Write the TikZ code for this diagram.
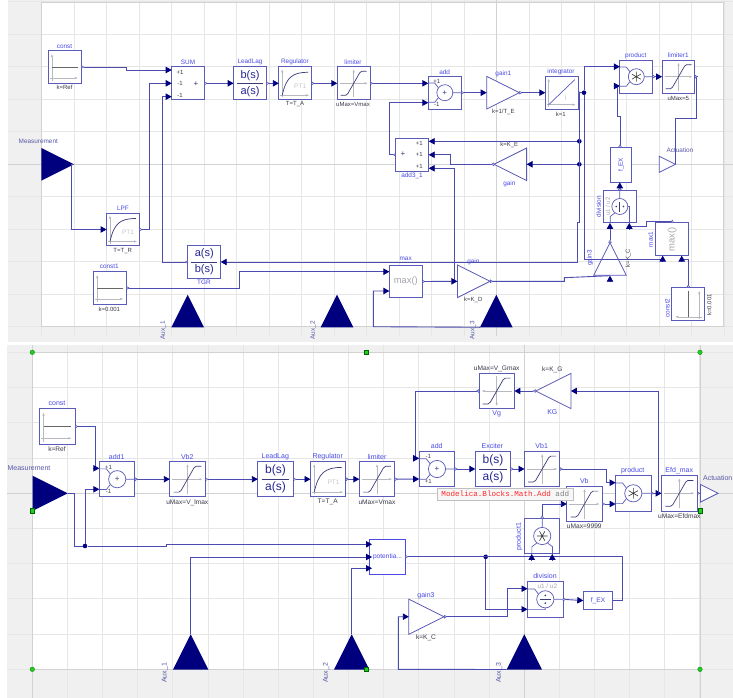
\documentclass[tikz,border=0pt]{standalone}
\usepackage{fontspec}
\setmainfont{Liberation Sans}
\newfontfamily\monoF{Liberation Mono}
\usetikzlibrary{arrows.meta,shapes.geometric,shadows}
\definecolor{navyc}{HTML}{00007F}
\definecolor{framec}{HTML}{5A5AB8}
\definecolor{wirec}{HTML}{4C4CB0}
\definecolor{namec}{HTML}{4A4AE6}
\definecolor{parc}{HTML}{3A3A4A}
\definecolor{portc}{HTML}{5858A8}
\definecolor{panelc}{HTML}{F0F0F0}
\definecolor{gridc}{HTML}{E6E6E6}
\definecolor{axisc}{HTML}{D2D2D2}
\definecolor{iconc}{HTML}{B8B8C0}
\definecolor{crvc}{HTML}{3A3A78}
\definecolor{handlec}{HTML}{22CC22}
\newcounter{tn}
\newcommand\T[3]{\stepcounter{tn}\node[#1] (t\thetn) at (#2) {#3};}
\tikzset{
  blk/.style={rectangle,draw=framec,fill=white,line width=.9pt,inner sep=0pt,outer sep=0pt},
  sqA/.style={blk,minimum width=32.8pt,minimum height=32.8pt},
  sqB/.style={blk,minimum width=35.4pt,minimum height=35.4pt},
  triBase/.style={isosceles triangle,isosceles triangle stretches,inner sep=0pt,outer sep=0pt,minimum width=#1,minimum height=#1},
  gainA/.style={triBase=32.6pt,draw=framec,fill=white,line width=.8pt},
  gainB/.style={triBase=35.2pt,draw=framec,fill=white,line width=.8pt},
  inpA/.style={triBase=32.6pt,fill=navyc},
  inpB/.style={triBase=35.2pt,fill=navyc},
  wire/.style={draw=wirec,line width=.9pt,line join=miter},
  wireA/.style={wire,-{Triangle[length=6pt,width=6.4pt,color=navyc]}},
  wireOA/.style={wire,{Triangle[reversed,open,fill=white,length=3pt,width=3.6pt,line width=.5pt]}-{Triangle[length=6pt,width=6.4pt,color=navyc]}},
  wireO/.style={wire,{Triangle[reversed,open,fill=white,length=3pt,width=3.6pt,line width=.5pt]}-},
  dotn/.style={circle,fill=navyc,inner sep=0pt,minimum size=4.6pt},
  nmA/.style={inner sep=0pt,text=namec,font=\fontsize{6.4}{7}\selectfont},
  nmB/.style={inner sep=0pt,text=namec,font=\fontsize{7}{8}\selectfont},
  paA/.style={inner sep=0pt,text=parc,font=\fontsize{6}{7}\selectfont},
  paB/.style={inner sep=0pt,text=parc,font=\fontsize{6.6}{7}\selectfont},
  ptA/.style={inner sep=0pt,text=portc,font=\fontsize{6.4}{7}\selectfont},
  ptB/.style={inner sep=0pt,text=portc,font=\fontsize{7}{8}\selectfont},
  ax/.style={draw=iconc,line width=.5pt,-{Latex[length=3pt,width=2.4pt]}},
  crv/.style={draw=crvc,line width=.7pt,line join=round},
  ring/.style={draw=framec,line width=.7pt,fill=white},
  mxA/.style={inner sep=0pt,text=iconc!90!black,font=\fontsize{9.4}{10}\selectfont},
  handleC/.style={circle,fill=handlec,draw=green!50!black,line width=.3pt,inner sep=0pt,minimum size=4.6pt},
  handleS/.style={rectangle,fill=handlec,draw=green!40!black,line width=.4pt,inner sep=0pt,minimum size=4.2pt},
}
\newcommand\icConst[3][0]{\begin{scope}[shift={(#2.center)},scale=#3,rotate=#1]
  \draw[ax] (-13,14)--(-13,-13); \draw[ax] (-15,11)--(13,11);
  \draw[draw=black!60,line width=.9pt] (-13,0)--(13,0);\end{scope}}
\newcommand\icLim[3][0]{\begin{scope}[shift={(#2.center)},scale=#3,rotate=#1]
  \draw[ax] (0,14)--(0,-14); \draw[ax] (-14,0)--(14,0);
  \draw[crv] (-13,12)--(-8,12)--(-6,10.5)--(6,-10.5)--(8,-12)--(13,-12);\end{scope}}
\newcommand\icPT[2]{\begin{scope}[shift={(#1.center)},scale=#2]
  \draw[ax] (-13,14)--(-13,-14); \draw[ax] (-15,12)--(14,12);
  \draw[crv] (-13,12) .. controls (-9,-6) and (-3,-11) .. (13,-11);
  \T{inner sep=0pt,text=gray!45,font=\fontsize{6.5}{7}\selectfont}{5,3}{PT1}\end{scope}}
\newcommand\icInt[2]{\begin{scope}[shift={(#1.center)},scale=#2]
  \draw[ax] (-13,14)--(-13,-14); \draw[ax] (-15,12)--(14,12);
  \draw[draw=framec,line width=.7pt] (-13,12)--(13,-13);
  \T{inner sep=0pt,text=gray!45,font=\fontsize{6.5}{7}\selectfont}{4,6}{I}\end{scope}}
\newcommand\icFrac[5]{\begin{scope}[shift={(#1.center)},scale=#2]
  \draw[draw=crvc,line width=.7pt] (-13,0)--(13,0);
  \T{inner sep=0pt,text=navyc!85!white,font=\fontsize{#3}{12}\selectfont}{0,-8}{#4}
  \T{inner sep=0pt,text=navyc!85!white,font=\fontsize{#3}{12}\selectfont}{0,8}{#5}\end{scope}}
% round math block: lines from the two inputs to the ring
\newcommand\ringLines{\draw[draw=framec,line width=.7pt] (-16.5,-9.6)--(-10,-9.6)--(-6.5,-5) (-16.5,9.6)--(-10,9.6)--(-6.5,5) (8,0)--(16.5,0);}
\newcommand\icAdd[4]{\begin{scope}[shift={(#1.center)},scale=#2]
  \ringLines \draw[ring] (0,0) circle (8);
  \T{inner sep=0pt,text=crvc,font=\fontsize{8}{8}\selectfont}{0,0}{+}
  \T{inner sep=0pt,text=parc,font=\fontsize{6}{7}\selectfont}{-8,-11.3}{#3}
  \T{inner sep=0pt,text=parc,font=\fontsize{6}{7}\selectfont}{-8,11.3}{#4}\end{scope}}
\newcommand\icProd[3][0]{\begin{scope}[shift={(#2.center)},scale=#3,rotate=#1]
  \ringLines \draw[ring] (0,0) circle (8);
  \draw[draw=black!80,line width=.6pt] (0,-5)--(0,5) (-4.4,-2.5)--(4.4,2.5) (-4.4,2.5)--(4.4,-2.5);\end{scope}}
\newcommand\icDiv[3][0]{\begin{scope}[shift={(#2.center)},scale=#3,rotate=#1]
  \draw[draw=framec,line width=.7pt] (-16.5,-9.6)--(-10,-9.6)--(-6.5,-5) (-16.5,9.6)--(0,9.6)--(0,8) (8,0)--(16.5,0);
  \draw[ring] (0,0) circle (8);
  \draw[draw=crvc,line width=.7pt] (-5,0)--(5,0);
  \fill[crvc] (0,-3.6) circle (.9) (0,3.6) circle (.9);\end{scope}}
\newcommand\headU[1]{\draw[wireA] ([yshift=-6.3pt]#1) -- (#1);}
\newcommand\headR[1]{\draw[wireA] ([xshift=-6.3pt]#1) -- (#1);}

\begin{document}
\begin{tikzpicture}[x=1pt,y=-1pt]
\useasboundingbox (0,0) rectangle (733,698);
\fill[white] (0,0) rectangle (733,698);
%% ---------- panels and grids
\fill[panelc] (8,0) rectangle (733,342);
\fill[white] (41.7,2.7) rectangle (723.3,326.7);
\fill[panelc] (7,345) rectangle (733,698);
\fill[white] (32.3,352.3) rectangle (700,669.3);
\foreach \k in {0,...,21}{\draw[gridc,line width=.7pt] ({41.7+32.5*\k},0)--({41.7+32.5*\k},336);}
\foreach \k in {-5,...,5}{\draw[gridc,line width=.7pt] (8,{164.3+32.5*\k})--(733,{164.3+32.5*\k});}
\draw[axisc,line width=.7pt] (41.7,2.7) rectangle (723.3,326.7);
\draw[axisc,line width=.7pt] (8,164.3)--(733,164.3) (496.7,0)--(496.7,336);
\foreach \k in {0,...,19}{\draw[gridc,line width=.7pt] ({32.3+35.13*\k},345)--({32.3+35.13*\k},698);}
\foreach \k in {0,...,9}{\draw[gridc,line width=.7pt] (7,{352.3+35.2*\k})--(733,{352.3+35.2*\k});}
\draw[axisc,line width=.7pt] (32.3,352.3) rectangle (700,669.3);
\draw[axisc,line width=.7pt] (7,493.3)--(733,493.3) (524.2,345)--(524.2,698);
\draw[axisc,line width=.7pt] (32.3,345)--(32.3,698) (700,345)--(700,698);

%% ---------- top diagram: blocks
\node[sqA] (aconst) at (64.8,67) {};
\node[sqA] (asum) at (188,83.3) {};
\node[sqA] (alead) at (250,83.3) {};
\node[sqA] (areg) at (295.2,83.3) {};
\node[sqA] (alim) at (353.7,83.3) {};
\node[sqA] (aadd) at (444.8,92.7) {};
\node[sqA] (aint) at (561.7,92.7) {};
\node[sqA] (aadd3) at (412.3,154.8) {};
\node[sqA] (alpf) at (123,229.5) {};
\node[sqA] (atgr) at (204.3,262) {};
\node[sqA] (aconst1) at (110.2,288) {};
\node[sqA] (amax) at (405.8,281.5) {};
\node[sqA] (adiv) at (619.8,206.5) {};
\node[blk,minimum width=21pt,minimum height=35pt] (afex) at (621.2,164.8) {};
\node[sqA] (aprod) at (636.3,76.7) {};
\node[sqA] (alim1) at (678.5,76.7) {};
\node[sqA] (amax1) at (672.2,239.2) {};
\node[sqA] (aconst2) at (688.3,303.8) {};
\node[gainA,anchor=apex] (again1) at (519.3,92.7) {};
\node[gainA,anchor=apex,shape border rotate=180] (again) at (494,164.3) {};
\node[gainA,anchor=apex] (againD) at (490,281.3) {};
\node[gainA,anchor=apex,shape border rotate=90] (againC) at (610,242.7) {};
\node[triBase=16pt,anchor=apex,draw=framec,fill=white,line width=.8pt] (aact) at (675.3,164.3) {};
\node[inpA,anchor=apex] (ameas) at (74,164.3) {};
\node[inpA,anchor=apex,shape border rotate=90] (aaux1) at (187.7,294.7) {};
\node[inpA,anchor=apex,shape border rotate=90] (aaux2) at (337,294.7) {};
\node[inpA,anchor=apex,shape border rotate=90] (aaux3) at (496.3,294.7) {};

%% top icons
\icConst{aconst}{1}
\icFrac{alead}{1}{11}{b(s)}{a(s)}
\icPT{areg}{1}
\icLim{alim}{1}
\icAdd{aadd}{1}{+1}{-1}
\icInt{aint}{1}
\icPT{alpf}{1}
\icFrac{atgr}{1}{11}{a(s)}{b(s)}
\icConst{aconst1}{1}
\icProd{aprod}{1}
\icLim{alim1}{1}
\icDiv[90]{adiv}{1}
\icConst[90]{aconst2}{1}
\T{mxA}{amax}{max()}
\T{mxA,rotate=90}{amax1}{max()}
\T{inner sep=0pt,text=namec,rotate=90,font=\fontsize{6.4}{7}\selectfont}{afex}{f\_EX}
\T{inner sep=0pt,text=crvc,font=\fontsize{8}{8}\selectfont}{196,84}{+}
\T{inner sep=0pt,text=crvc,font=\fontsize{8}{8}\selectfont}{403,154}{+}
\T{paA}{180,72}{+1}\T{paA}{180,83.5}{-1}\T{paA}{180,95}{-1}
\T{paA}{419.3,143.3}{+1}\T{paA}{419.3,154.7}{+1}\T{paA}{419.3,166}{+1}
\T{inner sep=0pt,text=iconc!90!black,rotate=90,font=\fontsize{6}{7}\selectfont}{607.7,206.7}{u1 / u2}

%% top labels
\T{nmA}{64.5,46}{const}\T{paA}{64.5,87.5}{k=Ref}
\T{nmA}{188,62}{SUM}\T{nmA}{250,62}{LeadLag}
\T{nmA}{295,62}{Regulator}\T{paA}{295,104}{T=T\_A}
\T{nmA}{353,62}{limiter}\T{paA}{353,104}{uMax=Vmax}
\T{nmA}{444.7,72}{add}
\T{nmA}{503.3,74}{gain1}\T{paA}{503.3,112.3}{k=1/T\_E}
\T{nmA}{561,71.7}{integrator}\T{paA}{560.7,114}{k=1}
\T{nmA}{412,175.7}{add3\_1}
\T{paA}{509.3,145.3}{k=K\_E}\T{nmA}{509.3,183.7}{gain}
\T{ptA}{38.3,141}{Measurement}
\T{nmA}{123,208.5}{LPF}\T{paA}{122.7,250.7}{T=T\_R}
\T{nmA}{204,282.3}{TGR}
\T{nmA}{109.3,266.7}{const1}\T{paA}{109.3,309}{k=0.001}
\T{nmA}{405.7,259.3}{max}
\T{nmA}{473.3,261.7}{gain}\T{paA}{473.3,300.3}{k=K\_D}
\T{nmA,rotate=90}{590,258}{gain3}\T{paA,rotate=90}{628.3,258}{k=K\_C}
\T{nmA,rotate=90}{598.7,206.7}{division}
\T{nmA}{635.7,55.7}{product}
\T{nmA}{678.3,55.7}{limiter1}\T{paA}{678.3,98.3}{uMax=5}
\T{ptA}{680,150.7}{Actuation}
\T{nmA,rotate=90}{650.7,239.3}{max1}
\T{nmA,rotate=90}{667.3,308}{const2}\T{paA,rotate=90}{709.3,305}{k=0.001}
\T{ptA,rotate=90}{163.3,330.5}{Aux\_1}
\T{ptA,rotate=90}{313.3,330.5}{Aux\_2}
\T{ptA,rotate=90}{472.7,330.5}{Aux\_3}

%% top ports
\coordinate (as1) at (171.7,70);
\coordinate (as2) at (171.7,83.3);
\coordinate (as3) at (171.7,96.7);
\coordinate (aai1) at (428.3,83.3);
\coordinate (aai2) at (428.3,102.7);
\coordinate (a3i1) at (428.7,141.3);
\coordinate (a3i2) at (428.7,154.8);
\coordinate (a3i3) at (428.7,168.3);
\coordinate (ami1) at (389.4,271.7);
\coordinate (ami2) at (389.4,291);
\coordinate (api1) at (619.9,66.7);
\coordinate (api2) at (619.9,86);
\coordinate (adi1) at (610,222.9);
\coordinate (adi2) at (629.3,222.9);
\coordinate (am1i1) at (662.7,255.6);
\coordinate (am1i2) at (681.7,255.6);
\coordinate (agci) at (610,275.7);

%% top wires
\node[dotn] (aj1) at (579.3,141.3) {};
\node[dotn] (aj2) at (579.3,164.3) {};
\node[dotn] (aj3) at (584,92.7) {};
\coordinate (ajD) at (454.3,281.3);
\draw[wireOA] (aconst.east) -- (126,67) -- (126,70) -- (as1);
\draw[wireOA] (asum.east) -- (alead.west);
\draw[wireOA] (alead.east) -- (areg.west);
\draw[wireOA] (areg.east) -- (alim.west);
\draw[wireOA] (alim.east) -- (aai1);
\draw[wireOA] (aadd.east) -- (again1.lower side);
\draw[wireOA] (again1.apex) -- (aint.west);
\draw[wireA] (ameas.apex) -- (71.3,164.3) -- (71.3,229.5) -- (alpf.west);
\draw[wireOA] (alpf.east) -- (149.3,229.5) -- (149.3,83.3) -- (as2);
\draw[wireOA] (atgr.west) -- (162.3,262) -- (162.3,96.7) -- (as3);
\draw[wireOA] (aint.east) -- (579.3,92.7) -- (579.3,222.7) -- (577.3,222.7) -- (577.3,262) -- (atgr.east);
\draw[wireA] (aj1) -- (a3i1);
\draw[wireA] (aj2) -- (again.lower side);
\draw[wire] (579.3,92.7) -- (aj3);
\draw[wireA] (aj3) -- (584,66.7) -- (api1);
\draw[wire] (aj3) -- (584,259.3) -- (am1i1 |- 0,259.3);
\headU{am1i1}
\draw[wireO] (aconst2.north) -- (688.3,259.3) -- (am1i2 |- 0,259.3);
\headU{am1i2}
\draw[wireOA] (again.apex) -- (450.7,164.3) -- (450.7,154.8) -- (a3i2);
\draw[wireA] (ajD) -- (454.3,168.3) -- (a3i3);
\draw[wireOA] (aadd3.west) -- (389.3,154.8) -- (389.3,102.7) -- (aai2);
\draw[wireOA] (aconst1.east) -- (239.3,288) -- (239.3,271.7) -- (ami1);
\draw[wireA] (aaux3.left corner) -- (373.3,326.7) -- (373.3,291) -- (ami2);
\draw[wireOA] (amax.east) -- (againD.lower side);
\draw[wireO] (againD.apex) -- (564.3,281.3) -- (564.3,277.7) -- (agci);
\headU{agci}
\draw[wireOA] (againC.apex) -- (adi1);
\draw[wireO] (amax1.north) -- (672.2,221) -- (646,221) -- (646,226.7) -- (629.3,226.7);
\headU{adi2}
\draw[wireOA] (619.8,190.1) -- (afex.south -| 619.8,0);
\draw[wireO] (afex.north -| 620,0) -- (620,116.7) -- (617,116.7) -- (617,86);
\headR{api2}
\draw[wireOA] (aprod.east) -- (alim1.west);
\draw[wireO] (alim1.east) -- (696.7,76.7) -- (696.7,118.3) -- (675.3,118.3) -- (aact.apex);

%% ---------- bottom diagram: blocks
\node[sqB] (bconst) at (57.5,426.5) {};
\node[sqB] (badd1) at (117.2,479.2) {};
\node[sqB] (bvb2) at (187.5,479.2) {};
\node[sqB] (blead) at (275.5,479.2) {};
\node[sqB] (breg) at (328.2,479.2) {};
\node[sqB] (blim) at (377,479.2) {};
\node[sqB] (badd) at (437,469) {};
\node[sqB] (bexc) at (493,469) {};
\node[sqB] (bvb1) at (542.2,469) {};
\node[sqB] (bprod) at (633.3,493.3) {};
\node[sqB] (bvb) at (584.5,504) {};
\node[sqB] (bprod1) at (542.2,536) {};
\node[sqB] (bdiv) at (545.3,599.3) {};
\node[sqB] (bvg) at (496.7,391) {};
\node[sqB] (befd) at (679.3,493.3) {};
\node[blk,draw=namec,minimum width=35.4pt,minimum height=35pt] (bpot) at (387.5,556.8) {};
\node[blk,minimum width=29.4pt,minimum height=18.3pt] (bfex) at (598,600.6) {};
\node[gainB,anchor=apex,shape border rotate=180] (bkg) at (535.7,391) {};
\node[gainB,anchor=apex] (bg3) at (444,616.7) {};
\node[triBase=17.6pt,anchor=apex,draw=framec,fill=white,line width=.8pt] (bact) at (718,493.3) {};
\node[inpB,anchor=apex] (bmeas) at (67.7,493.3) {};
\node[inpB,anchor=apex,shape border rotate=90] (baux1) at (190.7,634.3) {};
\node[inpB,anchor=apex,shape border rotate=90] (baux2) at (351.7,634.3) {};
\node[inpB,anchor=apex,shape border rotate=90] (baux3) at (524.3,634.3) {};

%% bottom icons
\def\Sb{1.075}
\icConst{bconst}{\Sb}
\icAdd{badd1}{\Sb}{+1}{-1}
\icLim{bvb2}{\Sb}
\icFrac{blead}{\Sb}{12}{b(s)}{a(s)}
\icPT{breg}{\Sb}
\icLim{blim}{\Sb}
\icAdd{badd}{\Sb}{-1}{+1}
\icFrac{bexc}{\Sb}{12}{b(s)}{a(s)}
\icLim{bvb1}{\Sb}
\icProd{bprod}{\Sb}
\icLim{bvb}{\Sb}
\icProd[90]{bprod1}{\Sb}
\icDiv{bdiv}{\Sb}
\icLim[180]{bvg}{\Sb}
\icLim{befd}{\Sb}
\T{inner sep=0pt,text=namec,font=\fontsize{6.6}{7}\selectfont}{bpot}{potentia...}
\T{inner sep=0pt,text=namec,font=\fontsize{6.6}{7}\selectfont}{bfex}{f\_EX}
\T{inner sep=0pt,text=iconc!90!black,font=\fontsize{6.4}{7}\selectfont}{547.3,586.3}{u1 / u2}

%% bottom labels
\T{nmB}{57,403.5}{const}\T{paB}{57,449}{k=Ref}
\T{ptB}{29,468}{Measurement}
\T{nmB}{116.7,456.7}{add1}
\T{nmB}{187.3,456.7}{Vb2}\T{paB}{187.3,502.3}{uMax=V\_lmax}
\T{nmB}{275.3,456.7}{LeadLag}
\T{nmB}{327.7,456.7}{Regulator}\T{paB}{327.7,502.3}{T=T\_A}
\T{nmB}{377,456.7}{limiter}\T{paB}{377,502.3}{uMax=Vmax}
\T{nmB}{436.7,445.7}{add}
\T{nmB}{492.3,445.7}{Exciter}
\T{nmB}{541.7,445.7}{Vb1}
\T{nmB}{632.7,470.7}{product}
\T{nmB}{584.3,481}{Vb}\T{paB}{584.3,526.7}{uMax=9999}
\T{nmB,rotate=90}{519,536.7}{product1}
\T{nmB}{545,576}{division}
\T{nmB}{496.7,413.7}{Vg}\T{paB}{496.7,368.7}{uMax=V\_Gmax}
\T{nmB}{552.3,412}{KG}\T{paB}{552.3,370}{k=K\_G}
\T{nmB}{426,595.7}{gain3}\T{paB}{426,637.7}{k=K\_C}
\T{nmB}{679.3,470.7}{Efd\_max}\T{paB}{679.3,516.3}{uMax=Efdmax}
\T{ptB,anchor=east}{732.5,478.3}{Actuation}
\T{ptB,rotate=90}{165,673}{Aux\_1}
\T{ptB,rotate=90}{326,673}{Aux\_2}
\T{ptB,rotate=90}{499,673}{Aux\_3}

%% bottom ports
\coordinate (b1i1) at (99.3,468.3);
\coordinate (b1i2) at (99.3,489.3);
\coordinate (bai1) at (419.2,458.3);
\coordinate (bai2) at (419.2,479);
\coordinate (bpi1) at (615.6,482.7);
\coordinate (bpi2) at (615.6,504);
\coordinate (bdi1) at (527.5,588.7);
\coordinate (bdi2) at (527.5,609.3);
\coordinate (bqi1) at (531.7,553.9);
\coordinate (bqi2) at (552.3,553.9);
\coordinate (bti1) at (372,544.3);
\coordinate (bti2) at (372,557);
\coordinate (bti3) at (372,568.3);

%% bottom wires
\node[dotn] (bj1) at (85,546) {};
\node[dotn] (bj2) at (485.7,556.8) {};
\coordinate (bj3) at (658,493.3);
\draw[wireO] (bconst.east) -- (95.7,426.5) -- (95.7,468.3);
\headR{b1i1}
\draw[wireA] (bj1) -- (85,489.3) -- (b1i2);
\draw[wire] (bmeas.apex) -- (74.7,493.3) -- (74.7,546) -- (bj1);
\draw[wireA] (bj1) -- (166,546) -- (166,544.3) -- (bti1);
\draw[wireA] (baux1.apex) -- (190.7,557) -- (bti2);
\draw[wireA] (baux2.apex) -- (351.7,568.3) -- (bti3);
\draw[wireOA] (badd1.east) -- (bvb2.west);
\draw[wireOA] (bvb2.east) -- (blead.west);
\draw[wireOA] (blead.east) -- (breg.west);
\draw[wireOA] (breg.east) -- (blim.west);
\draw[wireOA] (blim.east) -- (bai2);
\draw[wireOA] (badd.east) -- (bexc.west);
\draw[wireOA] (bexc.east) -- (bvb1.west);
\draw[wireOA] (bvb1.east) -- (606,469) -- (606,482.7) -- (bpi1);
\draw[wireOA] (bvb.east) -- (bpi2);
\draw[wireOA] (bprod1.north) -- (542.2,504) -- (bvb.west);
\draw[wireOA] (bprod.east) -- (befd.west);
\draw[wireA] (bj3) -- (658,391) -- (bkg.lower side);
\draw[wireO] (befd.east) -- (bact.lower side);
\draw[wireOA] (bkg.apex) -- (bvg.east);
\draw[wireO] (bvg.west) -- (415.7,391) -- (415.7,458.3);
\headR{bai1}
\draw[wireO] (bpot.east) -- (622.7,556.8) -- (622.7,600.6) -- (bfex.east);
\headU{bqi1}
\headU{bqi2}
\draw[wireA] (bj2) -- (485.7,609.3) -- (bdi2);
\draw[wireOA] (bg3.apex) -- (507,616.7) -- (507,588.7) -- (bdi1);
\draw[wireOA] (bdiv.east) -- (bfex.west);
\draw[wireA] (baux3.left corner) -- (398.3,669.3) -- (398.3,616.7) -- (bg3.lower side);

%% handles
\node[handleC] (h1) at (32.3,352.3) {};
\node[handleC] (h2) at (32.3,669.3) {};
\node[handleC] (h3) at (700,352.3) {};
\node[handleC] (h4) at (700,669.3) {};
\node[handleS] (h5) at (366,352.3) {};
\node[handleS] (h6) at (366,669.3) {};
\node[handleS] (h7) at (32.3,510.7) {};
\node[handleS] (h8) at (700,510.7) {};

%% tooltip
\node[rectangle,draw=gray!50,fill=gray!6,line width=.6pt,minimum width=135.3pt,minimum height=11.7pt,inner sep=0pt,
      drop shadow={opacity=.35,shadow xshift=1.2pt,shadow yshift=-1.2pt},font=\monoF\fontsize{7.6}{9}\selectfont] (tip) at (505.3,494.2)
  {\textcolor{red!85}{Modelica.Blocks.Math.Add}~\textcolor{gray}{add}};
\end{tikzpicture}
\end{document}
